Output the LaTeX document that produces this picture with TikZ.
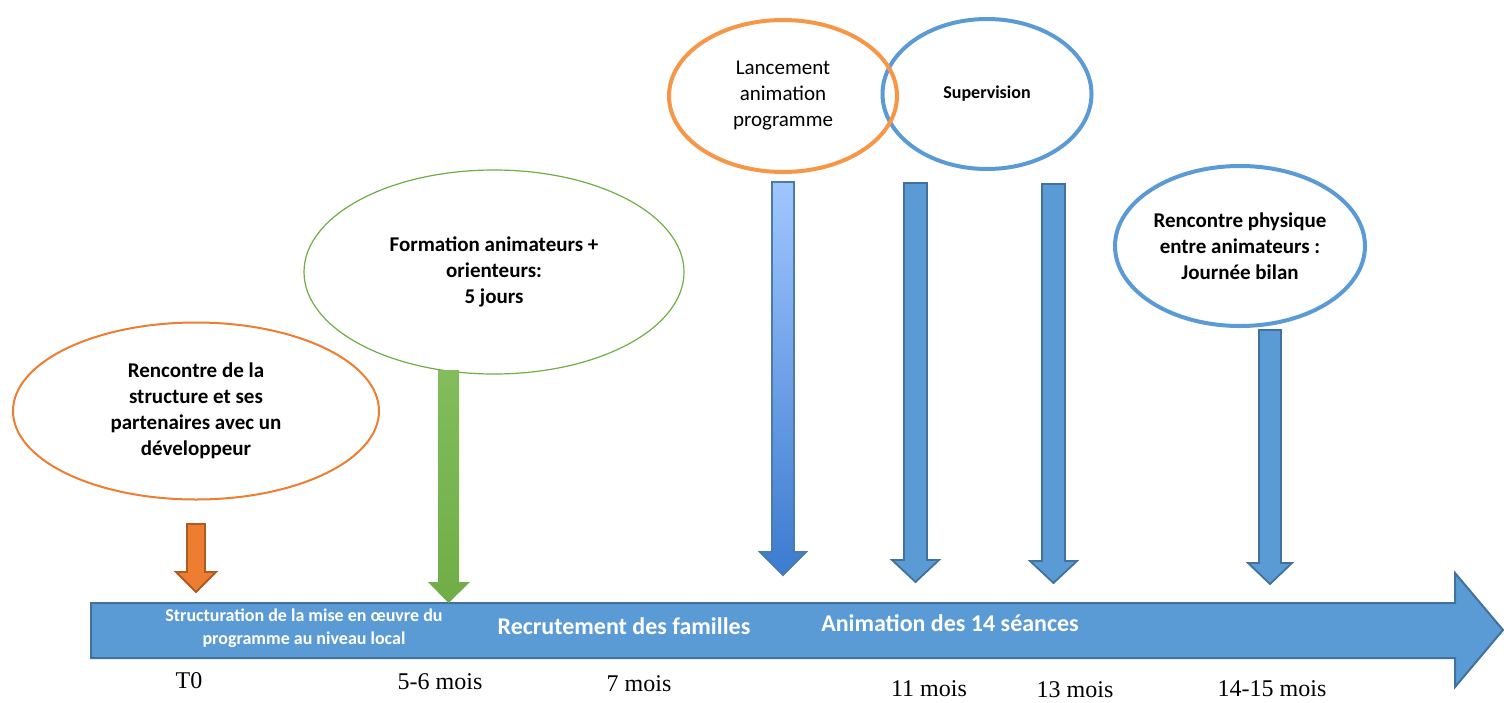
\documentclass[tikz,border=0pt]{standalone}
\usepackage{fontspec}
\setmainfont{Carlito}
\newfontfamily\timesfont{Liberation Serif}
\usetikzlibrary{shapes.geometric}

\definecolor{barblue}{HTML}{5B9BD5}
\definecolor{bardark}{HTML}{41719C}
\definecolor{orangefill}{HTML}{ED7D31}
\definecolor{orangedark}{HTML}{AE5A21}
\definecolor{orangeline}{HTML}{F79646}
\definecolor{greenfill}{HTML}{70AD47}
\definecolor{greenlight}{HTML}{82BC5C}
\definecolor{skytop}{HTML}{A0C6FF}
\definecolor{skybottom}{HTML}{3B7BCF}

\begin{document}
\begin{tikzpicture}[%
      x=0.5pt, y=-0.5pt,
      bulle/.style={ellipse, inner sep=0pt, align=center, text=black,
        font=\fontsize{10.5}{13}\selectfont\bfseries},
      mois/.style={font=\timesfont\fontsize{12}{14}\selectfont, inner sep=0pt},
      bartext/.style={text=white, align=center, inner sep=0pt},
      fleche/.style={fill=barblue, draw=bardark, line width=0.9pt, line join=miter},
      ]
      \useasboundingbox (0,0) rectangle (1504,702);

      % frise
      \draw[fill=barblue, draw=bardark, line width=1pt] (91,603) -- (1455,603) -- (1455,573)
        -- (1503,630) -- (1455,687) -- (1455,658) -- (91,658) -- cycle;

      \node[bartext, font=\fontsize{9}{11.5}\selectfont\bfseries] (structuration) at (304,628)
        {Structuration de la mise en œuvre du\\programme au niveau local};
      \node[bartext, font=\fontsize{12}{14}\selectfont\bfseries] (recrutement) at (624,626)
        {Recrutement des familles};
      \node[bartext, font=\fontsize{12}{14}\selectfont\bfseries] (animation) at (950,623)
        {Animation des 14 séances};

      % bulles
      \node[bulle, draw=orangefill, line width=1pt, minimum width=183pt, minimum height=88.5pt]
        (rencontre) at (196,411) {Rencontre de la\\structure et ses\\partenaires avec un\\développeur};
      \node[bulle, draw=greenfill, line width=0.6pt, minimum width=190pt, minimum height=102pt]
        (formation) at (494,272) {Formation animateurs +\\orienteurs:\\5 jours};
      \node[bulle, draw=barblue, line width=2pt, minimum width=104.5pt, minimum height=75pt,
        font=\fontsize{9}{11}\selectfont\bfseries]
        (supervision) at (987,94) {Supervision};
      \node[bulle, draw=orangeline, line width=2pt, minimum width=114pt, minimum height=76pt,
        font=\fontsize{10.5}{13}\selectfont]
        (lancement) at (783,96) {Lancement\\animation\\programme};
      \node[bulle, draw=barblue, line width=2pt, minimum width=125pt, minimum height=80pt]
        (bilan) at (1240,246) {Rencontre physique\\entre animateurs :\\Journée bilan};

      % fleches vers la frise
      \draw[fleche, fill=orangefill, draw=orangedark] (187,524) -- (205,524) -- (205,572)
        -- (216,572) -- (196,592) -- (176,572) -- (187,572) -- cycle;
      \shade[top color=greenlight, bottom color=greenfill] (438,370) -- (459,370) -- (459,582)
        -- (470,582) -- (448.5,603) -- (428,582) -- (438,582) -- cycle;
      \draw[fleche, top color=skytop, bottom color=skybottom, draw=barblue!80!black]
        (772,182) -- (794,182) -- (794,552) -- (806,552) -- (783,575) -- (760,552) -- (772,552) -- cycle;
      \draw[fleche] (904,183) -- (927,183) -- (927,560)
        -- (939,560) -- (915.5,582) -- (892,560) -- (904,560) -- cycle;
      \draw[fleche] (1042,184) -- (1065,184) -- (1065,561)
        -- (1077,561) -- (1053.5,583) -- (1030,561) -- (1042,561) -- cycle;
      \draw[fleche] (1259,330) -- (1281,330) -- (1281,563)
        -- (1292,563) -- (1270,584) -- (1248,563) -- (1259,563) -- cycle;

      % durees
      \node[mois] (t0) at (189,681) {T0};
      \node[mois] (m56) at (440,682) {5-6 mois};
      \node[mois] (m7) at (639,684) {7 mois};
      \node[mois] (m11) at (929,689) {11 mois};
      \node[mois] (m13) at (1075,690) {13 mois};
      \node[mois] (m1415) at (1272,689) {14-15 mois};
\end{tikzpicture}
\end{document}
